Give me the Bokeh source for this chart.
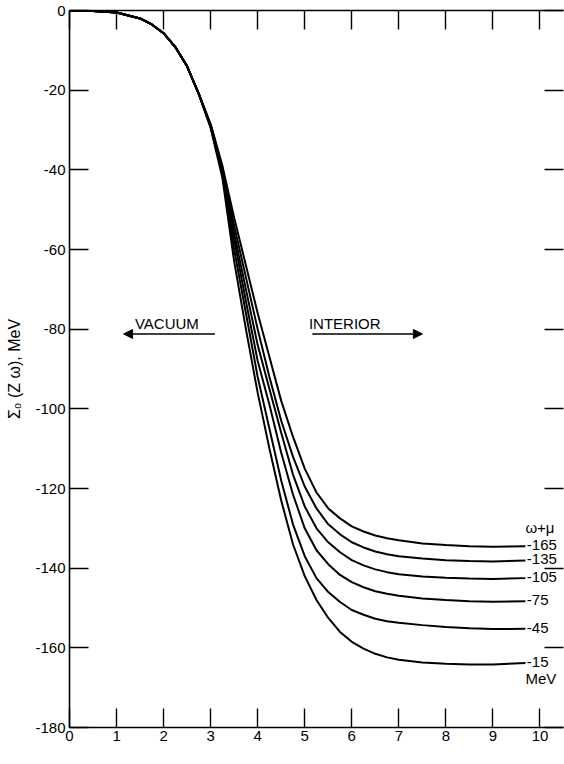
from bokeh.plotting import figure
from bokeh.models import LinearAxis, Label, Arrow, NormalHead, FixedTicker, Range1d, ColumnDataSource
from bokeh.embed import file_html
from bokeh.resources import INLINE
from bokeh.core.properties import value

# ---- data ----
z = [0, 0.5, 1.0, 1.5, 1.75, 2.0, 2.25, 2.5, 2.75,
     3.0, 3.25, 3.5, 3.75, 4.0, 4.25, 4.5, 4.75, 5.0, 5.25, 5.5, 5.75,
     6.0, 6.25, 6.5, 6.75, 7.0, 7.5, 8.0, 8.5, 9.0, 9.69]

common_head = [0, -0.1, -0.5, -2.0, -3.5, -5.7, -9.2, -14.0, -21.0]

sigma_m165 = common_head + [-28.5, -39, -52, -64, -76, -87, -98, -107, -115, -121, -125, -127.5,
                            -129.5, -130.8, -131.8, -132.5, -133, -133.8, -134.2, -134.5, -134.6, -134.5]
sigma_m135 = common_head + [-28.7, -39.5, -54, -67, -80, -92, -103, -112, -119.5, -125, -129, -131.5,
                            -133.5, -134.8, -135.8, -136.5, -137, -137.6, -138, -138.2, -138.3, -138.1]
sigma_m105 = common_head + [-28.9, -40, -56, -70, -84, -95, -106, -116.5, -124.5, -130, -133.5, -136,
                            -138, -139.3, -140.3, -141, -141.5, -142.1, -142.4, -142.6, -142.7, -142.5]
sigma_m75 = common_head + [-29.1, -40.5, -57.5, -73, -88, -99, -111, -121.5, -130, -135.5, -139, -141.7,
                           -143.5, -144.8, -145.8, -146.4, -146.9, -147.6, -148, -148.3, -148.4, -148.3]
sigma_m45 = common_head + [-29.3, -41, -60, -76, -92, -105, -118, -129, -137, -142.5, -146, -148.5,
                           -150.5, -151.7, -152.7, -153.3, -153.7, -154.3, -154.8, -155.1, -155.3, -155.2]
sigma_m15 = common_head + [-29.5, -42, -63, -80, -96, -110, -123, -134, -142, -148, -152.5, -156,
                           -158.5, -160.2, -161.5, -162.4, -163, -163.7, -164, -164.2, -164.2, -163.8]

series = [sigma_m165, sigma_m135, sigma_m105, sigma_m75, sigma_m45, sigma_m15]
curve_labels = ["-165", "-135", "-105", "-75", "-45", "-15"]

x_ticks = [0, 1, 2, 3, 4, 5, 6, 7, 8, 9, 10]
y_ticks = [0, -20, -40, -60, -80, -100, -120, -140, -160, -180]
y_tick_labels = ["0", "-20", "-40", "-60", "-80", "-100", "-120", "-140", "-160", "-180"]

FONT = "Liberation Sans"

p = figure(width=564, height=764, x_range=Range1d(0, 10.5), y_range=Range1d(-180, 0),
           output_backend="svg", toolbar_location=None,
           min_border_left=69, min_border_right=1, min_border_top=10, min_border_bottom=37)
p.outline_line_color = None
p.xgrid.visible = False
p.ygrid.visible = False
p.background_fill_color = "white"
p.border_fill_color = "white"

top_axis = LinearAxis()
right_axis = LinearAxis()
p.add_layout(top_axis, "above")
p.add_layout(right_axis, "right")


def style(ax, ticks, labels=True, overrides=None):
    ax.ticker = FixedTicker(ticks=ticks)
    ax.major_tick_in = 19
    ax.major_tick_out = 0
    ax.minor_tick_line_color = None
    ax.axis_line_width = 1.6
    ax.major_tick_line_width = 1.4
    ax.axis_line_color = "black"
    ax.major_tick_line_color = "black"
    ax.major_label_text_font = FONT
    if labels:
        ax.major_label_text_color = "black"
        ax.major_label_text_font_size = "15px"
        ax.major_label_standoff = 4
        if overrides:
            ax.major_label_overrides = overrides
    else:
        ax.major_label_text_color = None
        ax.major_label_text_font_size = "0px"
        ax.major_label_standoff = 0


style(p.below[0], x_ticks)
style(p.left[0], y_ticks, overrides={t: s for t, s in zip(y_ticks, y_tick_labels)})
style(top_axis, x_ticks, labels=False)
style(right_axis, y_ticks, labels=False)
right_axis.axis_line_color = None
p.below[0].major_label_standoff = 3

p.left[0].axis_label = "Σ₀ (Z ω), MeV"
p.left[0].axis_label_text_font = FONT
p.left[0].axis_label_text_font_style = "normal"
p.left[0].axis_label_text_font_size = "16px"
p.left[0].axis_label_text_color = "black"
p.left[0].axis_label_standoff = 9

for ys in series:
    p.line(z, ys, line_color="black", line_width=2)

# curve-end labels
src = ColumnDataSource(dict(x=[9.72] * len(series), y=[s[-1] + 0.3 for s in series], t=curve_labels))
p.text(x="x", y="y", text="t", source=src, text_font=value(FONT), text_font_size="15px",
       text_align="left", text_baseline="middle", text_color="black")

p.add_layout(Label(x=9.69, y=-129.8, text="ω+μ", text_font=FONT, text_font_size="15px",
                   text_align="left", text_baseline="middle", text_color="black"))
p.add_layout(Label(x=9.69, y=-167.8, text="MeV", text_font=FONT, text_font_size="15px",
                   text_align="left", text_baseline="middle", text_color="black"))

# region annotations
p.add_layout(Label(x=2.07, y=-78.6, text="VACUUM", text_font=FONT, text_font_size="15px",
                   text_align="center", text_baseline="middle", text_color="black"))
p.add_layout(Label(x=5.85, y=-78.6, text="INTERIOR", text_font=FONT, text_font_size="15px",
                   text_align="center", text_baseline="middle", text_color="black"))
p.add_layout(Arrow(x_start=3.09, y_start=-81.2, x_end=1.15, y_end=-81.2, line_width=1.5,
                   line_color="black",
                   end=NormalHead(size=9, fill_color="black", line_color="black", line_width=1)))
p.add_layout(Arrow(x_start=5.16, y_start=-81.2, x_end=7.5, y_end=-81.2, line_width=1.5,
                   line_color="black",
                   end=NormalHead(size=9, fill_color="black", line_color="black", line_width=1)))

# x axis title
p.add_layout(Label(x=4.49, y=-184.8, text="Z,F", text_font=FONT, text_font_size="15px",
                   text_align="center", text_baseline="middle", text_color="black"))

open("out.html", "w").write(file_html(p, INLINE))
